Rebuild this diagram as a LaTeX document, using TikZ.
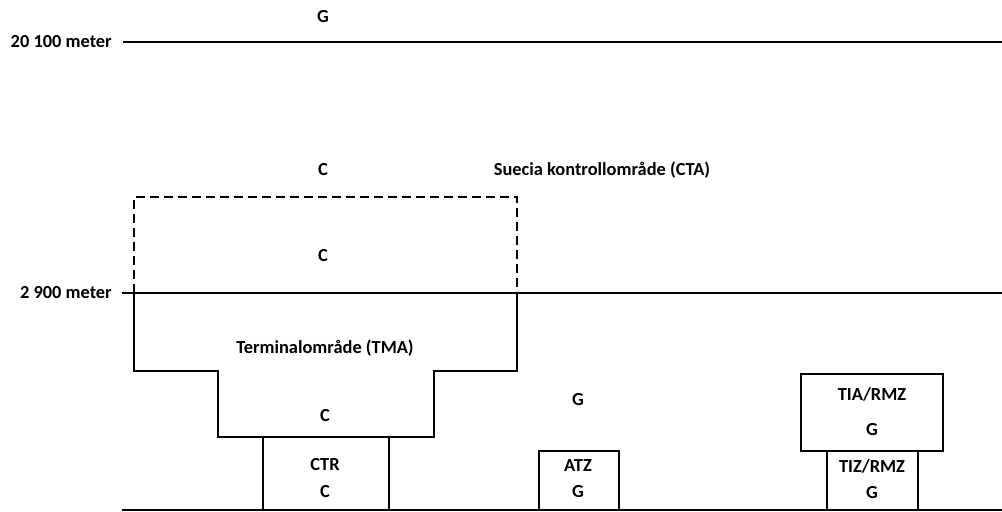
\documentclass[tikz,border=0pt]{standalone}
\usepackage{fontspec}
\setmainfont{Carlito}
\begin{document}
\begin{tikzpicture}[x=0.75pt,y=-0.75pt,
  lbl/.style={font=\bfseries\fontsize{13.8}{16}\selectfont, inner sep=0pt},
  ln/.style={line width=1.8pt, line join=miter},
  dsh/.style={line width=1.8pt, dash pattern=on 6.75pt off 3.75pt}]
\useasboundingbox (0,0) rectangle (1002,511);
% altitude lines
\node[lbl, anchor=east] (h1) at (112,42) {20 100 meter};
\draw[ln] (123,42) coordinate (a1) -- (1002,42) coordinate (a2);
\node[lbl, anchor=east] (h2) at (112,293) {2 900 meter};
\draw[ln] (122,293) coordinate (b1) -- (1002,293) coordinate (b2);
\draw[ln] (122,510) coordinate (g1) -- (1002,510) coordinate (g2);
% labels
\node[lbl] (gtop) at (323,17) {G};
\node[lbl] (cta1) at (323,170) {C};
\node[lbl] (cta) at (602,170) {Suecia kontrollområde (CTA)};
\node[lbl] (cdash) at (323,256) {C};
% dashed upper part of TMA
\draw[dsh] (134,293) -- (134,197) -- (517,197) -- (517,293);
% TMA outline
\draw[ln] (134,293) -- (134,371) -- (218,371) -- (218,437) -- (434,437) -- (434,371) -- (517,371) -- (517,293);
\node[lbl] (tma) at (325,348) {Terminalområde (TMA)};
\node[lbl] (ctma) at (325,416) {C};
% CTR
\draw[ln] (263,510) -- (263,437);
\draw[ln] (389,437) -- (389,510);
\node[lbl] (ctr) at (325,465) {CTR};
\node[lbl] (cctr) at (325,492) {C};
% G airspace
\node[lbl] (gmid) at (578,400) {G};
% ATZ
\draw[ln] (539,510) -- (539,451) -- (619,451) -- (619,510);
\node[lbl] (atz) at (578,466) {ATZ};
\node[lbl] (gatz) at (578,492) {G};
% TIA/RMZ
\draw[ln] (801,374) rectangle (943,451);
\node[lbl] (tia) at (872,394) {TIA/RMZ};
\node[lbl] (gtia) at (872,430) {G};
% TIZ/RMZ
\draw[ln] (827,510) -- (827,451);
\draw[ln] (918,451) -- (918,510);
\node[lbl] (tiz) at (872,466) {TIZ/RMZ};
\node[lbl] (gtiz) at (872,493) {G};
\end{tikzpicture}
\end{document}
